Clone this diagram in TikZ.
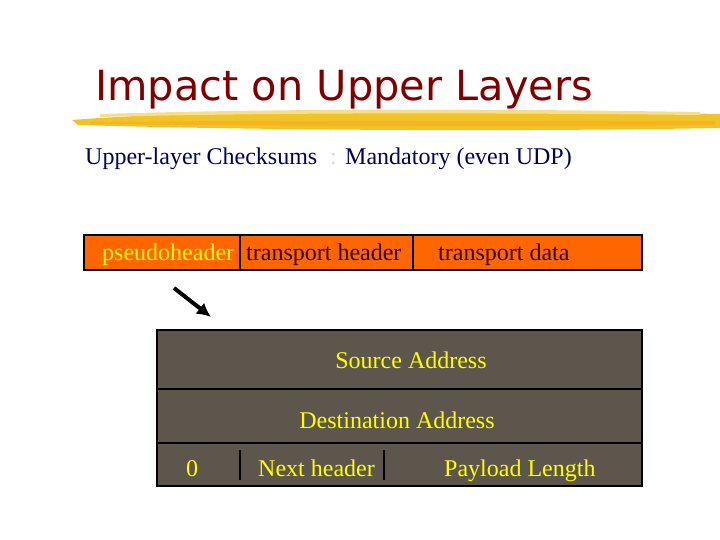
\documentclass[tikz,border=0pt]{standalone}
\usepackage{fontspec}
\usetikzlibrary{arrows.meta}
\setmainfont{Liberation Serif}
\newfontfamily\titlefont{DejaVu Sans}
\definecolor{titlered}{RGB}{128,0,0}
\definecolor{navy}{RGB}{0,0,96}
\definecolor{orangebar}{RGB}{255,102,0}
\definecolor{graybox}{RGB}{93,86,77}
\definecolor{txtyellow}{RGB}{255,255,0}
\definecolor{darktxt}{RGB}{48,0,0}
\definecolor{brush}{RGB}{240,196,40}
\begin{document}
\begin{tikzpicture}[x=1pt,y=-1pt,
  lbl/.style={inner sep=0pt,anchor=base,font=\fontsize{24}{28}\selectfont},
  cell/.style={draw=black,line width=2pt}]
\useasboundingbox (0,0) rectangle (720,540);
% title
\node[anchor=base,inner sep=0pt,text=titlered,font=\titlefont\fontsize{41.5}{48}\selectfont] (title) at (344,101) {Impact on Upper Layers};
% brush stroke
\fill[brush] (72,120) .. controls (200,110) and (400,108) .. (720,114) -- (720,128) .. controls (500,132) and (250,130) .. (78,125) -- cycle;
\fill[brush!55!white] (100,114) .. controls (300,108) and (500,109) .. (700,112) -- (700,115) .. controls (500,113) and (300,112) .. (100,117) -- cycle;
\fill[brush!80!orange] (90,122) .. controls (300,120) and (500,121) .. (715,121) -- (715,125) .. controls (500,127) and (300,126) .. (90,124) -- cycle;
% subtitle
\node[lbl,anchor=base west,text=navy] (sub1) at (85,165) {Upper-layer Checksums};
\node[lbl,anchor=base west,text=black!15] (colon) at (330,165) {:};
\node[lbl,anchor=base west,text=navy] (sub2) at (345,165) {Mandatory (even UDP)};
% orange bar
\draw[cell,fill=orangebar] (84,235) rectangle (642,270);
\draw[line width=2pt] (240,235) -- (240,270);
\draw[line width=2pt] (413,235) -- (413,270);
\node[lbl,anchor=base west,text=txtyellow] (ph) at (102,260) {pseudoheader};
\node[lbl,anchor=base west,text=darktxt] (th) at (246,260) {transport header};
\node[lbl,anchor=base west,text=darktxt] (td) at (438,260) {transport data};
% arrow
\coordinate (a1) at (174,288);
\coordinate (a2) at (211,317);
\draw[line width=4pt,-{Latex[length=14pt,width=14pt]}] (a1) -- (a2);
% gray box
\draw[cell,fill=graybox] (157,330) rectangle (642,486);
\draw[line width=2pt] (157,389) -- (642,389);
\draw[line width=2pt] (157,443) -- (642,443);
\draw[line width=2pt] (240,450) -- (240,480);
\draw[line width=2pt] (384,450) -- (384,480);
\node[lbl,text=txtyellow] (src) at (411,368) {Source Address};
\node[lbl,text=txtyellow] (dst) at (397,428) {Destination Address};
\node[lbl,text=txtyellow] (zero) at (192,476) {0};
\node[lbl,anchor=base west,text=txtyellow] (nh) at (258,476) {Next header};
\node[lbl,anchor=base west,text=txtyellow] (pl) at (444,476) {Payload Length};
\end{tikzpicture}
\end{document}
